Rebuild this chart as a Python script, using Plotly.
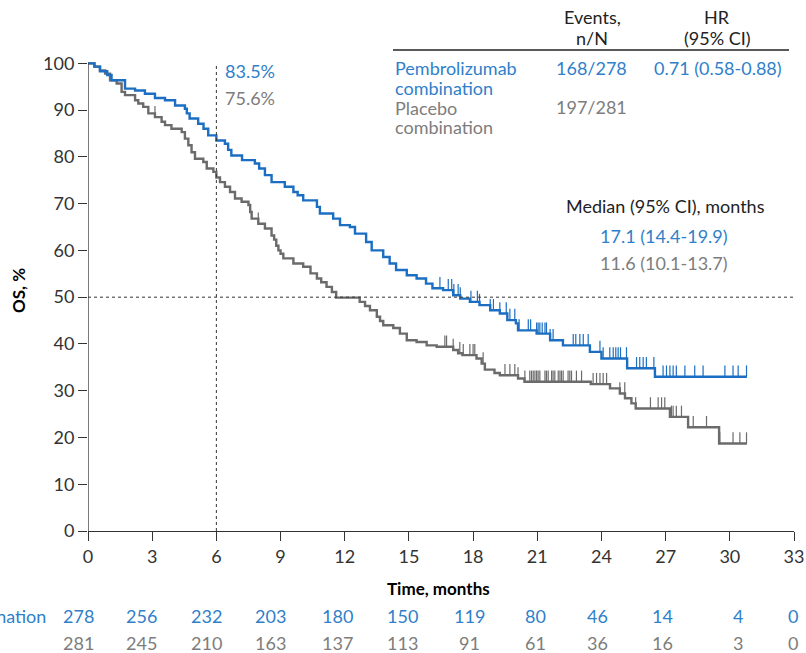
import plotly.graph_objects as go

# ---------------- data ----------------
pem_t = [0, 0.3, 0.56, 0.9, 1.1, 1.73, 2.2, 2.66, 3.13, 3.6, 4.07, 4.53, 4.62, 4.75, 5.15, 5.4, 5.62,
         6.0, 6.4, 6.55, 6.7, 7.2, 7.8, 8.0, 8.27, 8.58, 9.2, 9.6, 9.8, 10.06, 10.7, 10.84, 11.46,
         11.78, 12.24, 12.48, 13.0, 13.26, 13.8, 14.1, 14.4, 14.9, 15.36, 15.8, 16.1, 16.6, 17.07,
         17.4, 17.85, 18.3, 18.8, 19.25, 19.6, 20.0, 20.1, 20.97, 21.6, 22.2, 23.46, 24.0, 25.2,
         26.5, 30.8]
pem_s = [100, 99.3, 98.3, 97.5, 96.4, 94.6, 94.2, 93.5, 92.6, 92.1, 91.0, 90.3, 89.3, 88.2, 87.1, 86.0, 84.6,
         83.5, 82.8, 81.5, 80.3, 79.3, 78.6, 77.5, 76.1, 74.6, 73.6, 72.5, 71.8, 70.7, 69.3, 67.9, 66.8,
         65.4, 65.0, 63.6, 61.8, 60.0, 58.6, 57.2, 55.8, 54.7, 54.0, 52.9, 51.9, 51.5, 50.4,
         49.7, 49.0, 48.3, 47.2, 46.5, 45.1, 44.4, 42.9, 42.2, 40.8, 39.7, 38.3, 36.9, 34.8,
         33.0, 33.0]
pem_cens = [16.45, 16.84, 17.0, 17.1, 17.3, 17.4, 17.9, 18.2, 18.3, 18.8, 18.95, 19.25, 19.55, 19.72,
            19.95, 20.15, 20.58, 20.69, 20.97, 21.04, 21.12, 21.23, 21.36, 21.43, 21.6, 21.74, 22.68,
            22.8, 22.99, 23.15, 23.38, 23.93, 24.08, 24.39, 24.55, 24.67, 24.78, 24.89, 25.17, 25.64,
            25.79, 25.95, 26.1, 26.45, 26.88, 27.04, 27.2, 27.35, 27.5, 27.9, 28.36, 28.75, 29.77,
            30.15, 30.39, 30.78]

pbo_t = [0, 0.3, 0.56, 0.8, 1.03, 1.34, 1.57, 1.73, 2.2, 2.35, 2.58, 2.82, 3.13, 3.44, 3.6, 3.9, 4.38,
         4.53, 4.69, 4.84, 5.0, 5.39, 5.55, 5.86, 6.0, 6.17, 6.4, 6.64, 6.87, 7.18, 7.5, 7.58, 7.65,
         7.96, 8.27, 8.58, 8.7, 8.8, 8.9, 9.0, 9.13, 9.6, 10.06, 10.4, 10.7, 10.9, 11.15, 11.4, 11.6,
         12.7, 12.95, 13.18, 13.5, 13.65, 13.8, 14.27, 14.58, 14.9, 15.36, 15.83, 16.3, 17.07, 17.3,
         17.5, 18.16, 18.4, 18.55, 19.0, 19.25, 20.1, 20.4, 23.5, 24.4, 24.86, 25.1, 25.4, 25.6, 27.2,
         28.05, 29.5, 30.8]
pbo_s = [100, 99.3, 98.5, 97.8, 96.4, 95.7, 93.9, 93.2, 92.1, 91.4, 90.7, 89.3, 88.5, 87.5, 86.8, 86.0, 85.3,
         83.9, 82.5, 81.0, 79.6, 78.9, 77.5, 76.8, 75.6, 74.6, 73.6, 72.5, 71.1, 70.4, 69.7, 68.2, 66.8,
         65.7, 64.7, 63.2, 62.3, 61.0, 60.0, 59.3, 58.3, 57.2, 56.5, 55.1, 54.0, 53.2, 52.2, 51.1, 49.9,
         49.0, 48.1, 47.2, 45.8, 44.9, 44.0, 43.4, 42.2, 40.8, 40.4, 39.7, 39.4, 38.7, 38.0,
         37.6, 36.9, 35.8, 34.5, 33.8, 33.3, 32.6, 31.9, 31.4, 30.5, 29.4, 28.4, 27.3, 26.2, 24.4,
         22.2, 18.7, 18.7]
pbo_cens = [3.13, 7.96, 16.68, 16.76, 17.07, 17.38, 17.54, 17.85, 18.0, 18.08, 18.47, 19.49, 19.72, 19.95,
            20.1, 20.42, 20.65, 20.73, 20.81, 20.89, 20.97, 21.04, 21.12, 21.36, 21.43, 21.51, 21.67,
            21.74, 21.82, 21.98, 22.06, 22.13, 22.21, 22.44, 22.52, 22.6, 22.83, 23.07, 23.61, 23.77,
            23.93, 24.08, 24.24, 24.86, 25.09, 25.6, 26.29, 26.65, 26.81, 26.96, 27.27, 27.35, 27.5,
            27.74, 28.29, 28.91, 29.53, 30.15, 30.47, 30.78]

x_ticks = [0, 3, 6, 9, 12, 15, 18, 21, 24, 27, 30, 33]
y_ticks = [0, 10, 20, 30, 40, 50, 60, 70, 80, 90, 100]
nar_pem = [278, 256, 232, 203, 180, 150, 119, 80, 46, 14, 4, 0]
nar_pbo = [281, 245, 210, 163, 137, 113, 91, 61, 36, 16, 3, 0]

arm_pem = "Pembrolizumab combination"
arm_pbo = "Placebo combination"
events_pem, events_pbo = "168/278", "197/281"
hr_text = "0.71 (0.58-0.88)"
median_pem, median_pbo = "17.1 (14.4-19.9)", "11.6 (10.1-13.7)"
landmark = 6
land_pem, land_pbo = "83.5%", "75.6%"
median_line = 50

# ---------------- style ----------------
BLUE = "#1b6ec2"
BLUE_T = "#2f7fca"
GREY = "#6b6b6b"
GREY_T = "#7d7d7d"
DARK = "#222222"
FONT = "Lato"
FS = 18
NAR_SHIFT = [-10, -11, -10, -10, -7, -6, -4, -2, -4, -3, 8, -1]

W, H = 806, 653
ML, MR, MT, MB = 88, 12, 54, 122
PW, PH = W - ML - MR, H - MT - MB


def px(xp):
    return (xp - ML) / PW


def py(yp):
    return (H - MB - yp) / PH


def surv_at(ts, ss, t):
    v = ss[0]
    for ti, si in zip(ts, ss):
        if ti <= t:
            v = si
    return v


def cens_segments(ts, ss, cens, h=2.4):
    xs, ys = [], []
    for c in cens:
        s = surv_at(ts, ss, c)
        xs += [c, c, None]
        ys += [s, s + h, None]
    return xs, ys


fig = go.Figure()

for ts, ss, cens, col in [(pbo_t, pbo_s, pbo_cens, GREY), (pem_t, pem_s, pem_cens, BLUE)]:
    cx, cy = cens_segments(ts, ss, cens)
    fig.add_trace(go.Scatter(x=cx, y=cy, mode="lines", line=dict(color=col, width=1.2),
                             hoverinfo="skip", showlegend=False))
    fig.add_trace(go.Scatter(x=ts, y=ss, mode="lines", line=dict(color=col, width=2.4, shape="hv"),
                             showlegend=False))

# reference lines
fig.add_shape(type="line", xref="x", yref="y", x0=0, x1=33, y0=median_line, y1=median_line,
              line=dict(color="#333", width=1, dash="dot"))
fig.add_shape(type="line", xref="x", yref="y", x0=landmark, x1=landmark, y0=0, y1=99.5,
              line=dict(color="#333", width=1, dash="dot"))
# y axis line (0..100)
fig.add_shape(type="line", xref="x", yref="y", x0=0, x1=0, y0=0, y1=100,
              line=dict(color="#333", width=1.3))
# table rule
fig.add_shape(type="line", xref="paper", yref="paper", x0=px(393), x1=px(789), y0=py(50), y1=py(50),
              line=dict(color="#222", width=1.3))

ann = []


def text(t, xp, yp, color=DARK, xanchor="center", size=FS, bold=False, angle=0):
    ann.append(dict(text=("<b>%s</b>" % t) if bold else t, x=px(xp), y=py(yp), xref="paper",
                    yref="paper", xanchor=xanchor, yanchor="middle", showarrow=False,
                    textangle=angle, font=dict(family=FONT, size=size, color=color)))


# header table
text("Events,", 592, 17)
text("n/N", 592, 38)
text("HR", 717, 17)
text("(95% CI)", 717, 38)
w1, w2 = arm_pem.split(" ")
text(w1, 393, 68, BLUE_T, "left")
text(w2, 393, 88, BLUE_T, "left")
text(events_pem, 591, 68, BLUE_T)
text(hr_text, 718, 68, BLUE_T)
p1, p2 = arm_pbo.split(" ")
text(p1, 393, 108, GREY_T, "left")
text(p2, 393, 127, GREY_T, "left")
text(events_pbo, 591, 107, GREY_T)

# medians
text("Median (95% CI), months", 665, 206)
text(median_pem, 664, 236, BLUE_T)
text(median_pbo, 664, 263, GREY_T)

# landmark
text(land_pem, 223, 71, BLUE_T, "left")
text(land_pbo, 223, 98, GREY_T, "left")

# axis titles
text("Time, months", 438, 588, "#000", bold=True, size=17)
text("OS, %", 18, 291, "#000", bold=True, size=17, angle=-90)

# numbers at risk
text(arm_pem, 48, 616, BLUE_T, "right")
for t, a, b, sh in zip(x_ticks, nar_pem, nar_pbo, NAR_SHIFT):
    ann.append(dict(text=str(a), x=t, y=py(616), xref="x", yref="paper", xanchor="center",
                    yanchor="middle", xshift=sh, showarrow=False,
                    font=dict(family=FONT, size=FS, color=BLUE_T)))
    ann.append(dict(text=str(b), x=t, y=py(643), xref="x", yref="paper", xanchor="center",
                    yanchor="middle", xshift=sh, showarrow=False,
                    font=dict(family=FONT, size=FS, color=GREY_T)))

fig.update_layout(
    width=W, height=H, margin=dict(l=ML, r=MR, t=MT, b=MB, autoexpand=False),
    paper_bgcolor="white", plot_bgcolor="white",
    font=dict(family=FONT, size=FS, color="#333"),
    annotations=ann, showlegend=False,
)
fig.update_xaxes(range=[0, 33], tickmode="array", tickvals=x_ticks, showgrid=False, zeroline=False,
                 showline=True, linecolor="#333", linewidth=1.3, ticks="outside", ticklen=9,
                 tickcolor="#333", tickwidth=1.3, tickfont=dict(family=FONT, size=FS, color="#333"),
                 fixedrange=True, automargin=False)
fig.update_yaxes(range=[0, 102], tickmode="array", tickvals=y_ticks, showgrid=False, zeroline=False,
                 showline=False, ticks="outside", ticklen=9, tickcolor="#333", tickwidth=1.3,
                 tickfont=dict(family=FONT, size=FS, color="#333"), fixedrange=True, automargin=False)

fig.write_html("out.html", config={"displayModeBar": False},
               post_script="document.body.style.margin='0';document.body.style.overflow='hidden';")
